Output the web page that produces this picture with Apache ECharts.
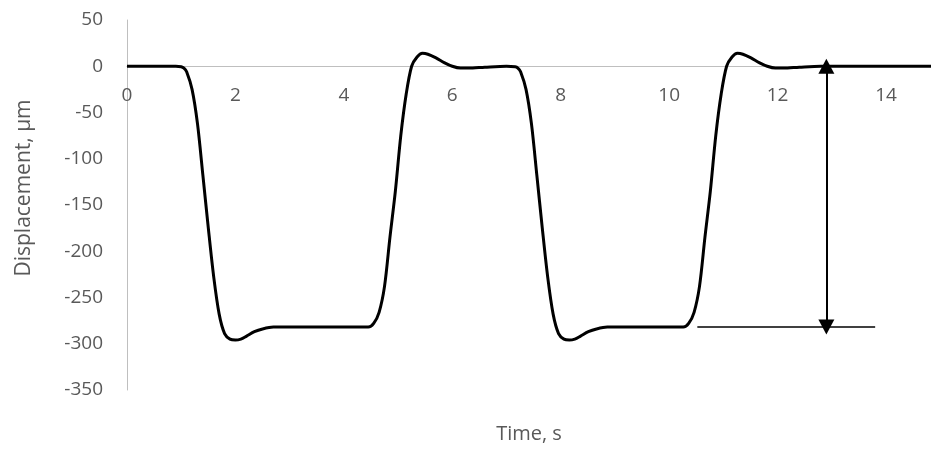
<!DOCTYPE html>
<html>
<head>
<meta charset="utf-8">
<script src="https://cdn.jsdelivr.net/npm/echarts@6/dist/echarts.min.js"></script>
<style>
html,body{margin:0;padding:0;background:#fff;}
#chart{width:931px;height:451px;}
</style>
</head>
<body>
<div id="chart"></div>
<script>
// Time, s
const timeValues = [
  0, 0.5, 0.9, 1.0, 1.05, 1.1, 1.2, 1.3, 1.4, 1.5, 1.6, 1.7, 1.8, 1.9, 2.0, 2.1, 2.2, 2.35, 2.5, 2.7, 3.0, 3.5, 4.0, 4.45,
  4.55, 4.65, 4.75, 4.85, 4.95, 5.05, 5.15, 5.25, 5.35, 5.45, 5.55, 5.7, 5.85, 6.0, 6.15, 6.3, 6.6, 7.0,
  7.16, 7.21, 7.26, 7.36, 7.46, 7.56, 7.66, 7.76, 7.86, 7.96, 8.06, 8.16, 8.26, 8.36, 8.51, 8.66, 8.86, 9.2, 9.6, 10.0, 10.26,
  10.36, 10.46, 10.56, 10.66, 10.76, 10.86, 10.96, 11.06, 11.16, 11.26, 11.36, 11.51, 11.66, 11.81, 11.96, 12.11, 12.4, 12.8, 13.5, 14.83
];
// Displacement, µm
const displacementValues = [
  0, 0, 0, -0.5, -2, -6, -25, -62, -118, -175, -228, -268, -289, -295, -296, -295, -292, -287, -284, -282, -282, -282, -282, -282,
  -278, -266, -238, -185, -135, -75, -30, 0, 10, 14, 13, 9, 4, 0, -2, -2, -1, 0,
  -0.5, -2, -6, -25, -62, -118, -175, -228, -268, -289, -295, -296, -295, -292, -287, -284, -282, -282, -282, -282, -282,
  -278, -266, -238, -185, -135, -75, -30, 0, 10, 14, 13, 9, 4, 0, -2, -2, -1, 0, 0, 0
];
// Annotation: amplitude arrow and reference level line
const arrowTime = [12.9, 12.9];
const arrowValues = [0, -282];
const levelTime = [10.52, 13.8];
const levelValues = [-282, -282];

const xTicks = [0, 2, 4, 6, 8, 10, 12, 14];
const yTicks = [50, 0, -50, -100, -150, -200, -250, -300, -350];

const curve = timeValues.map((t, i) => [t, displacementValues[i]]);
const level = levelTime.map((t, i) => [t, levelValues[i]]);

const chart = echarts.init(document.getElementById('chart'), null, {renderer: 'canvas'});
const font = '"Open Sans", "Liberation Sans", sans-serif';
chart.setOption({
  animation: false,
  backgroundColor: '#ffffff',
  grid: {left: 127, right: 0, top: 20, bottom: 61, containLabel: false, outerBoundsMode: 'none'},
  xAxis: {
    type: 'value',
    min: xTicks[0],
    max: 14.83,
    interval: 2,
    name: 'Time, s',
    nameLocation: 'middle',
    nameGap: 34,
    nameTextStyle: {color: '#595959', fontSize: 20, fontFamily: font},
    axisLine: {onZero: true, lineStyle: {color: '#BFBFBF', width: 1}},
    axisTick: {show: false},
    splitLine: {show: false},
    axisLabel: {
      color: '#595959', fontSize: 19, fontFamily: font, margin: -304,
      showMaxLabel: false,
      formatter: v => (xTicks.indexOf(v) >= 0 ? String(v) : '')
    }
  },
  yAxis: {
    type: 'value',
    min: yTicks[yTicks.length - 1],
    max: yTicks[0],
    interval: 50,
    name: 'Displacement, µm',
    nameLocation: 'middle',
    nameRotate: 90,
    nameGap: 92,
    nameTextStyle: {color: '#595959', fontSize: 21, fontFamily: font, padding: [0, 0, 0, 34]},
    axisLine: {show: true, lineStyle: {color: '#BFBFBF', width: 1}},
    axisTick: {show: false},
    splitLine: {show: false},
    axisLabel: {color: '#595959', fontSize: 19, fontFamily: font, margin: 24}
  },
  series: [
    {
      type: 'line',
      data: curve,
      showSymbol: false,
      smooth: 0.3,
      lineStyle: {color: '#000000', width: 3},
      z: 3
    },
    {
      type: 'line',
      data: level,
      showSymbol: false,
      lineStyle: {color: '#000000', width: 1.5},
      z: 2,
      markLine: {
        silent: true,
        symbol: ['triangle', 'triangle'],
        symbolSize: [16, 15],
        label: {show: false},
        lineStyle: {color: '#000000', width: 2, type: 'solid'},
        data: [[
          {coord: [arrowTime[0], arrowValues[0]]},
          {coord: [arrowTime[1], arrowValues[1]]}
        ]]
      }
    }
  ]
});
</script>
</body>
</html>
